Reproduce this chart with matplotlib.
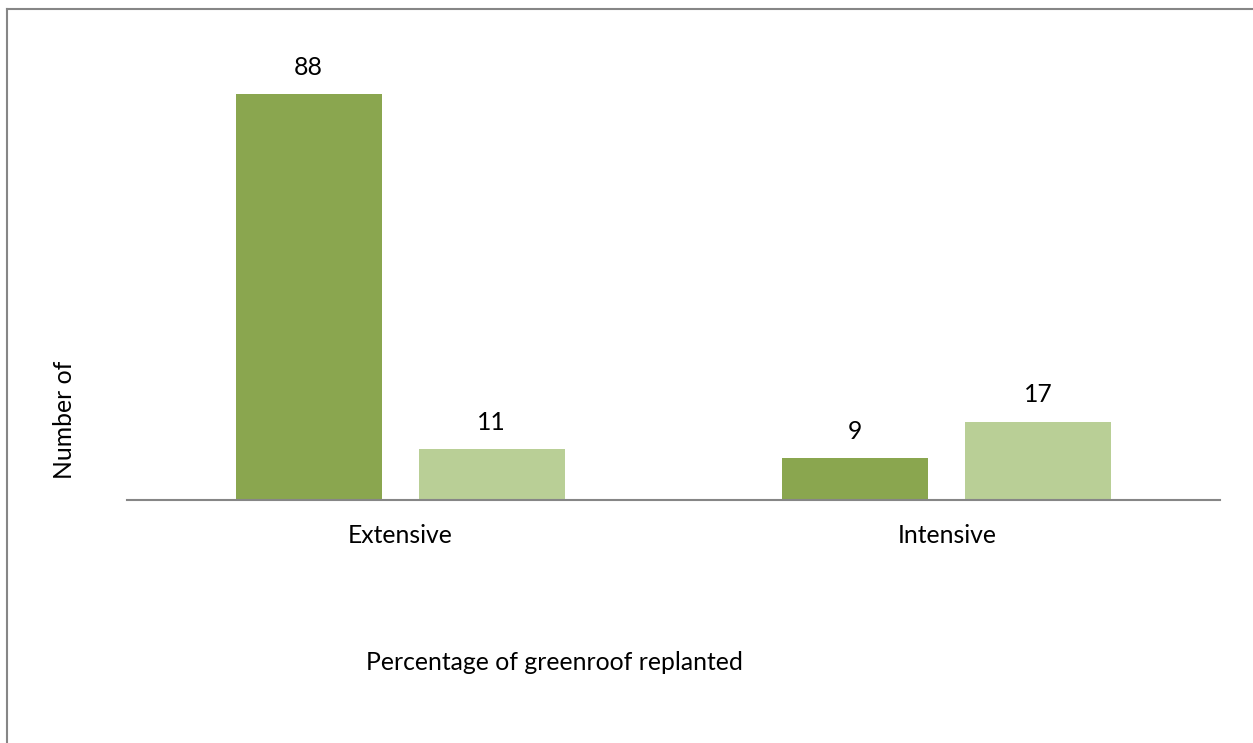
import matplotlib
matplotlib.use("Agg")
import matplotlib.pyplot as plt
import numpy as np

plt.rcParams['font.family'] = ['Lato', 'DejaVu Sans']

# data
categories = ['Extensive', 'Intensive']
series_a = [88, 9]
series_b = [11, 17]

dark_green = '#8aa64f'
light_green = '#b9cf96'

fig = plt.figure(figsize=(12.53, 7.43), dpi=100)
ax = fig.add_axes([127 / 1253, 243 / 743, 1093 / 1253, 440 / 743])

x = np.arange(len(categories))
w = 0.267
off = 0.1675
bars_a = ax.bar(x - off, series_a, w, color=dark_green)
bars_b = ax.bar(x + off, series_b, w, color=light_green)

fs = 17.8
for bars in (bars_a, bars_b):
    for b in bars:
        ax.annotate(str(int(b.get_height())),
                    (b.get_x() + b.get_width() / 2, b.get_height()),
                    xytext=(0, 11), textcoords='offset points',
                    ha='center', va='bottom', fontsize=fs)

ax.set_xlim(-0.5, 1.5)
ax.set_ylim(0, 440 / (406 / 88))
ax.set_xticks(x)
ax.set_xticklabels(categories, fontsize=fs)
ax.tick_params(axis='x', length=0, pad=17)
ax.set_yticks([])
for s in ('top', 'right', 'left'):
    ax.spines[s].set_visible(False)
ax.spines['bottom'].set_color('#868686')
ax.spines['bottom'].set_linewidth(1.5)

fig.text(65 / 1253, 1 - 420 / 743, 'Number of', rotation=90,
         ha='center', va='center', fontsize=fs)
fig.text(554 / 1253, 1 - 662 / 743, 'Percentage of greenroof replanted',
         ha='center', va='center', fontsize=fs)

# outer frame (left and top edges)
fig.add_artist(plt.Line2D([7 / 1253, 7 / 1253], [0, 1 - 8.5 / 743],
                          transform=fig.transFigure, color='#868686', lw=1.5))
fig.add_artist(plt.Line2D([7 / 1253, 1252 / 1253], [1 - 8.5 / 743, 1 - 8.5 / 743],
                          transform=fig.transFigure, color='#868686', lw=1.5))

fig.savefig('out.png', dpi=100)
